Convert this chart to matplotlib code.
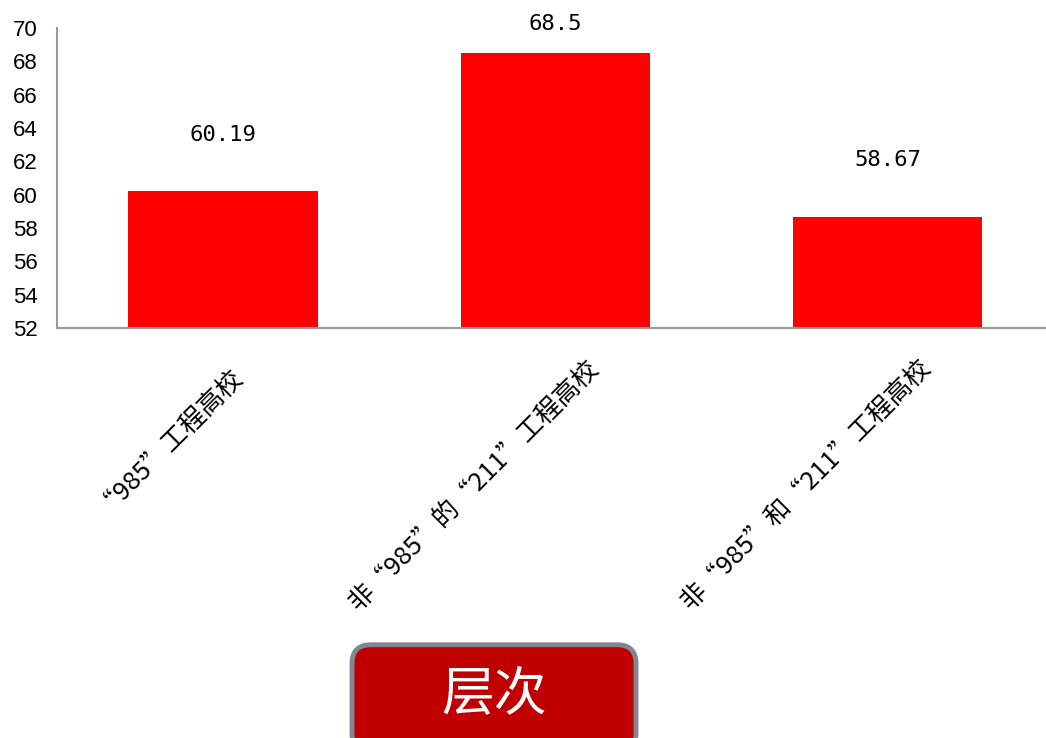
import matplotlib
matplotlib.use('Agg')
import matplotlib.pyplot as plt
import matplotlib.transforms as mtransforms
from matplotlib.patches import FancyBboxPatch

plt.rcParams['font.family'] = ['Noto Sans CJK SC', 'DejaVu Sans']

categories = ['“985”工程高校', '非“985”的“211”工程高校', '非“985”和“211”工程高校']
values = [60.19, 68.5, 58.67]
value_labels = ['60.19', '68.5', '58.67']
yticks = [52, 54, 56, 58, 60, 62, 64, 66, 68, 70]
box_text = '层次'

fig = plt.figure(figsize=(10.46, 7.38), dpi=100)
ax = fig.add_axes([0.0545, 0.5556, 0.953, 0.4065])

x = range(len(categories))
ax.bar(x, values, width=0.57, color='#ff0000', zorder=2)
ax.set_xlim(-0.5, 2.5)
ax.set_ylim(52, 70)
ax.set_yticks(yticks)
ax.set_yticklabels([str(t) for t in yticks], fontfamily='Liberation Sans', fontsize=16)
ax.tick_params(axis='y', length=0, pad=14)
ax.tick_params(axis='x', length=0, pad=0)
ax.set_xticks(list(x))
ax.set_xticklabels(categories, rotation=45, ha='right', va='center',
                   rotation_mode='anchor', fontsize=18.5)
# 第一个标签较短，原图中更靠近刻度
for k, lbl in enumerate(ax.get_xticklabels()):
    dx = 12 if k == 0 else 40
    offset = mtransforms.ScaledTranslation(dx / 100, -36 / 100, fig.dpi_scale_trans)
    lbl.set_transform(lbl.get_transform() + offset)

for s in ['top', 'right']:
    ax.spines[s].set_visible(False)
for s in ['left', 'bottom']:
    ax.spines[s].set_color('#9a9a9a')
    ax.spines[s].set_linewidth(1.5)

for i, (v, t) in enumerate(zip(values, value_labels)):
    ax.text(i, min(v + 3.4, 70.25), t, ha='center', va='center', fontsize=16,
            family='DejaVu Sans Mono', clip_on=False)

# 底部标签框
box = FancyBboxPatch((352 / 1046, -0.02), 284 / 1046, 108 / 738,
                     boxstyle='round,pad=0,rounding_size=0.018',
                     transform=fig.transFigure, facecolor='#c00000',
                     edgecolor='#7f8790', linewidth=3.5, mutation_aspect=1046 / 738)
fig.patches.append(box)
fig.text(494 / 1046, 1 - 695 / 738, box_text, ha='center', va='center',
         fontsize=38, color='white')

fig.savefig('out.png', dpi=100)
